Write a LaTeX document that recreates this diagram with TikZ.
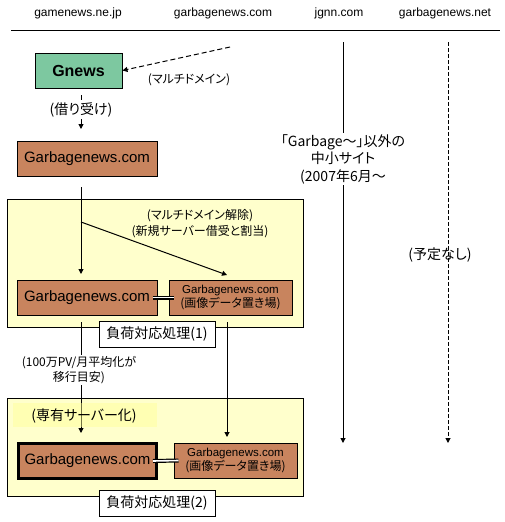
\documentclass[tikz,border=0pt]{standalone}
\usepackage{fontspec}
\setmainfont{Liberation Sans}
\newfontfamily\jp[RawFeature=+palt]{Noto Sans CJK JP}
\usetikzlibrary{arrows.meta}
\definecolor{gnewsgreen}{RGB}{125,200,160}
\definecolor{sitebrown}{RGB}{200,132,94}
\definecolor{paleyellow}{RGB}{255,255,204}
\definecolor{labelyellow}{RGB}{255,255,150}
\begin{document}
\begin{tikzpicture}[x=1pt,y=-1pt,
  tip/.style={-{Triangle[length=5pt,width=5pt]}},
  ln/.style={line width=1pt},
  hdr/.style={font=\fontsize{12}{14}\selectfont,inner sep=0pt},
  site/.style={draw=black,line width=1pt,fill=sitebrown,minimum width=140pt,minimum height=35pt,inner sep=0pt,font=\fontsize{15}{18}\selectfont},
  imgsite/.style={draw=black,line width=1pt,fill=sitebrown,minimum width=123pt,minimum height=35pt,inner sep=0pt,align=center,font=\fontsize{11.5}{14}\selectfont},
  phase/.style={draw=black,line width=1pt,fill=paleyellow},
  tag/.style={draw=black,line width=1pt,fill=white,minimum width=116pt,minimum height=26pt,inner sep=0pt,font=\jp\fontsize{14}{17}\selectfont},
  jpa/.style={font=\jp\fontsize{12}{16}\selectfont,align=center,inner sep=1pt},
  jpb/.style={font=\jp\fontsize{14}{17.5}\selectfont,align=center,inner sep=1pt},
  dbl/.style={double,double distance=1.6pt,line width=1.2pt}
]
\useasboundingbox (0,0) rectangle (505,522);
% headers
\node[hdr] (h1) at (78,13) {gamenews.ne.jp};
\node[hdr] (h2) at (223,13) {garbagenews.com};
\node[hdr] (h3) at (339,13) {jgnn.com};
\node[hdr] (h4) at (445,13) {garbagenews.net};
\coordinate (tl) at (11,30);
\coordinate (tr) at (500,30);
\draw[ln] (tl) -- (tr);

% phase boxes (background)
\draw[phase] (7,199) rectangle (303,327);
\draw[phase] (7,398) rectangle (303,496);

% gnews
\node[draw=black,line width=1pt,fill=gnewsgreen,minimum width=87pt,minimum height=35pt,inner sep=0pt,font=\bfseries\fontsize{16}{19}\selectfont] (gnews) at (78.5,70.5) {Gnews};
\coordinate (mdsrc) at (230,47);
\draw[ln,dash pattern=on 5pt off 3pt,tip] (mdsrc) -- (gnews.east);
\node[jpa] (md) at (189,80) {(マルチドメイン)};

% garbagenews 1
\node[site] (g1) at (87,158.5) {Garbagenews.com};
\coordinate (b1top) at (81,95);
\coordinate (b1bot) at (81,129);
\draw[ln,dash pattern=on 5pt off 3pt,tip] (b1top) -- (b1bot);
\node[jpb,fill=white] (borrow) at (81,110) {(借り受け)};

% phase 1
\node[site] (g2) at (87,297.5) {Garbagenews.com};
\node[imgsite] (i1) at (230.5,297.5) {Garbagenews.com\\{\jp\fontsize{12}{14}\selectfont (画像データ置き場)}};
\coordinate (g1out) at (81,187);
\coordinate (split) at (81,222);
\coordinate (g2in) at (81,274);
\coordinate (i1in) at (227,275);
\draw[ln,tip] (g1out) -- (g2in);
\draw[ln,tip] (split) -- (i1in);
\node[jpa] (rel) at (200,224) {(マルチドメイン解除)\\(新規サーバー借受と割当)};
\draw[dbl] ([xshift=-5pt]g2.east) -- ([xshift=5pt]i1.west);
\node[tag] (t1) at (157,334) {負荷対応処理(1)};

% phase 2
\node[site,line width=3pt,minimum width=138pt] (g3) at (87.5,461) {Garbagenews.com};
\node[imgsite] (i2) at (235.5,460.5) {Garbagenews.com\\{\jp\fontsize{12}{14}\selectfont (画像データ置き場)}};
\coordinate (g2out) at (81,322);
\coordinate (g3in) at (81,433);
\draw[ln,tip] (g2out) -- (g3in);
\node[jpa,fill=white,font=\jp\fontsize{12}{15}\selectfont] (pv) at (79,370) {(100万PV/月平均化が\\移行目安)};
\fill[labelyellow,opacity=0.45] (13,403) rectangle (157,427);
\node[jpb] (ded) at (84,416) {(専有サーバー化)};
\coordinate (i1out) at (227,322);
\coordinate (i2in) at (227,437);
\draw[ln,tip] (i1out) -- (i2in);
\draw[dbl] ([xshift=-5pt]g3.east) -- ([xshift=5pt]i2.west);
\node[tag] (t2) at (157,503) {負荷対応処理(2)};

% jgnn
\coordinate (jtop) at (343,42);
\coordinate (jbot) at (343,443);
\draw[ln,tip] (jtop) -- (jbot);
\node[jpb,fill=white] (jtxt) at (343,159) {「Garbage～」以外の\\中小サイト\\(2007年6月～};

% garbagenews.net
\coordinate (ntop) at (448,42);
\coordinate (nbot) at (448,443);
\draw[ln,dash pattern=on 4pt off 2pt,tip] (ntop) -- (nbot);
\node[jpb] (ntxt) at (440,255) {(予定なし)};
\end{tikzpicture}
\end{document}
